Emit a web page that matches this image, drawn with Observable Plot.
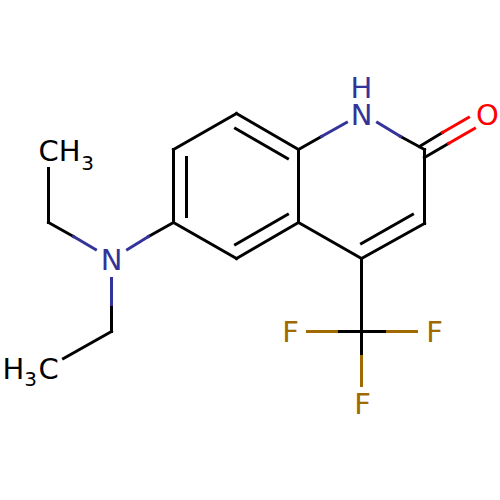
<!DOCTYPE html>
<html>
<head>
<meta charset="utf-8">
<script src="https://cdn.jsdelivr.net/npm/d3@7"></script>
<script src="https://cdn.jsdelivr.net/npm/@observablehq/plot@0.6"></script>
<style>html,body{margin:0;padding:0;background:#fff}svg{display:block}</style>
</head>
<body>
<div id="chart"></div>
<script>
const blackBonds = [
  [236,113,173,149],[173,149,173,222],[173,222,236,258],[236,258,298,222],[298,222,298,149],[298,149,236,113],
  [186,157,186,216],[235,128,287,158],[235,244,287,214],
  [298,222,361,258],[361,258,424,223],[424,223,424,149],[361,243,412,214],
  [298,149,321,136],[424,149,400,136],[419,146,442,132],[424,157,448,143],
  [173,222,148,236],[48,222,73,236],[48,222,48,168],[111,304,111,331],[111,331,63,358],
  [361,258,361,356],[336,331,387,331]
];
const blueBonds = [
  [321,136,346,122],[377,122,400,136],[148,236,127,249],[73,236,95,249],[111,278,111,304]
];
const redBonds = [[442,132,468,117],[448,143,474,128]];
const goldBonds = [[336,331,307,331],[387,331,416,331],[361,356,361,385]];

const labels = [
  {t:"H",x:361,y:88,c:"#333399"},{t:"N",x:361,y:115,c:"#333399"},
  {t:"O",x:487,y:115,c:"#ff0000"},
  {t:"N",x:111,y:260,c:"#333399"},
  {t:"CH",x:59,y:151,c:"#000000"},
  {t:"H",x:13,y:369,c:"#000000"},{t:"C",x:48,y:369,c:"#000000"},
  {t:"F",x:290,y:332,c:"#a06a00"},{t:"F",x:434,y:332,c:"#a06a00"},{t:"F",x:362,y:404,c:"#a06a00"}
];
const subscripts = [{t:"3",x:87,y:163},{t:"3",x:30,y:379}];

const bondMark = (rows, color) => Plot.link(rows, {
  x1: d => d[0], y1: d => d[1], x2: d => d[2], y2: d => d[3],
  stroke: color, strokeWidth: 3, strokeLinecap: "square"
});
const font = "DejaVu Sans";

document.getElementById("chart").append(Plot.plot({
  width: 500, height: 500, margin: 0,
  x: {domain: [0,500], range: [0,500], axis: null},
  y: {domain: [0,500], range: [0,500], axis: null},
  style: {background: "#fff"},
  marks: [
    bondMark(blackBonds, "#000000"),
    bondMark(blueBonds, "#333399"),
    bondMark(redBonds, "#ff0000"),
    bondMark(goldBonds, "#a06a00"),
    Plot.text(labels, {x:"x", y:"y", text:"t", fill:d=>d.c, fontSize:29, fontFamily:font}),
    Plot.text(subscripts, {x:"x", y:"y", text:"t", fill:"#000000", fontSize:20, fontFamily:font})
  ],
  color: {type: "identity"}
}));
</script>
</body>
</html>
